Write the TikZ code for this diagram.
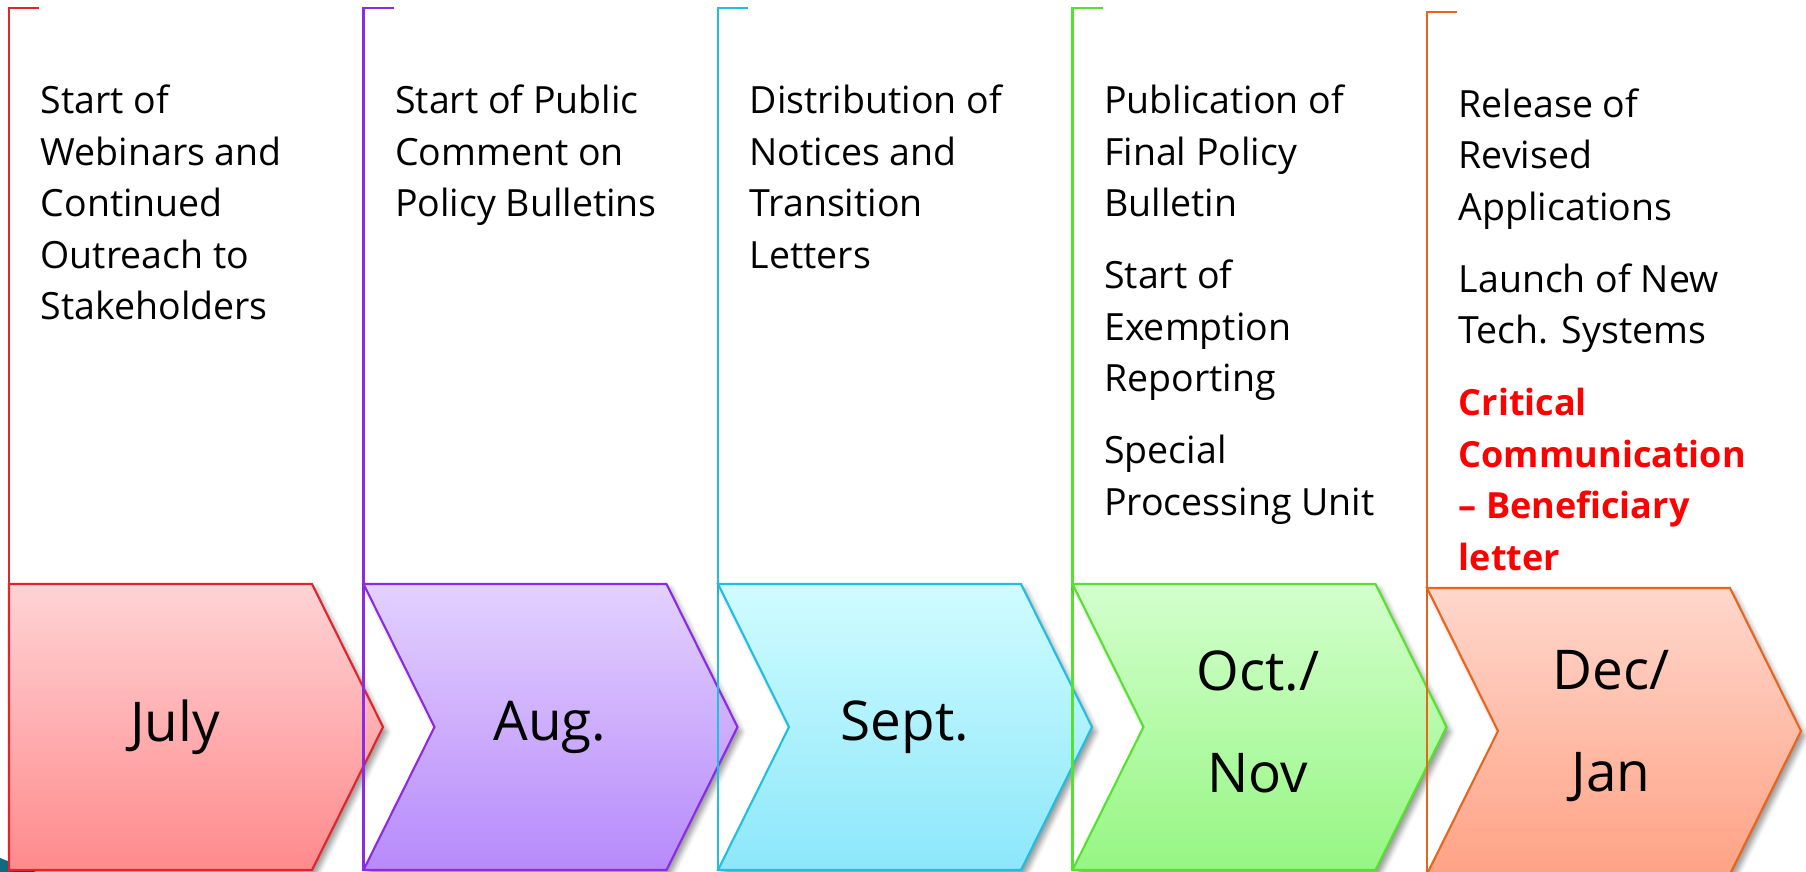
\documentclass[tikz,border=0pt]{standalone}
\usepackage{fontspec}
\setmainfont{Open Sans}
\usetikzlibrary{shadows.blur}

% Farben: Rand, oben, unten
\definecolor{linejuly}{HTML}{E3242B}
\definecolor{topjuly}{HTML}{FFD3D5}
\definecolor{botjuly}{HTML}{FF8A8C}
\definecolor{lineaug}{HTML}{8B2BE8}
\definecolor{topaug}{HTML}{E3D1FE}
\definecolor{botaug}{HTML}{B78AFB}
\definecolor{linesept}{HTML}{22BEE2}
\definecolor{topsept}{HTML}{D0FCFF}
\definecolor{botsept}{HTML}{8CE7FA}
\definecolor{lineoct}{HTML}{55E22E}
\definecolor{topoct}{HTML}{D3FFCD}
\definecolor{botoct}{HTML}{96F683}
\definecolor{linedec}{HTML}{E8651E}
\definecolor{topdec}{HTML}{FFD7CC}
\definecolor{botdec}{HTML}{FFA285}
\definecolor{cornerteal}{HTML}{0F6B7D}

\begin{document}
\begin{tikzpicture}[x=0.1mm, y=0.1mm,
        bracket/.style={line width=0.6pt},
        arrowbox/.style={line width=0.6pt,
            blur shadow={shadow xshift=0.4mm, shadow yshift=-0.5mm,
                shadow blur radius=0.5mm, shadow opacity=40}},
        info/.style={anchor=north west, inner sep=0pt, align=left,
            font=\fontsize{10.67}{14.65}\selectfont},
        month/.style={inner sep=0pt, align=center,
            font=\fontsize{15.6}{29}\selectfont}]

            % Spaltenabstand, Breite und Spitze der Pfeile
            \def\d{354.5}
            \def\w{303}
            \def\tip{71}
            \def\gap{2.05mm}

            \useasboundingbox (0,0) rectangle (1806,872);

            % Ecke unten links
            \fill[cornerteal] (0,0) -- (0,14) -- (20,6) -- (36,0) -- cycle;

            % Klammern und Pfeile
            \foreach \c/\dy [count=\i from 0] in {july/0, aug/0, sept/0, oct/0, dec/-4} {
                \pgfmathsetmacro\L{9+\i*\d}
                \pgfmathsetmacro\T{288+\dy}
                \pgfmathsetmacro\M{145+\dy}
                \pgfmathsetmacro\B{2+\dy}
                \draw[bracket, draw=line\c] (\L+30,864+\dy) -- (\L,864+\dy) -- (\L,\B);
                \ifnum\i=0
                    \path[arrowbox, draw=line\c, top color=top\c, bottom color=bot\c]
                        (\L,\T) -- (\L+\w,\T) -- (\L+\w+\tip,\M) -- (\L+\w,\B) -- (\L,\B) -- cycle;
                \else
                    \path[arrowbox, draw=line\c, top color=top\c, bottom color=bot\c]
                        (\L,\T) -- (\L+\w,\T) -- (\L+\w+\tip,\M) -- (\L+\w,\B) -- (\L,\B)
                        -- (\L+\tip,\M) -- cycle;
                \fi
            }

            % Monate
            \node[month] (july) at (175,145) {July};
            \node[month] (aug) at (550,145) {Aug.};
            \node[month] (sept) at (905,145) {Sept.};
            \node[month] (oct) at (1258,150) {Oct./\\Nov};
            \node[month] (dec) at (1611,146) {Dec/\\Jan};

            % Ereignisse
            \node[info] (events-july) at (40,787.5) {Start of\\Webinars and\\Continued\\Outreach to\\Stakeholders};
            \node[info] (events-aug) at (394.5,787.5) {Start of Public\\Comment on\\Policy Bulletins};
            \node[info] (events-sept) at (749,787.5) {Distribution of\\Notices and\\Transition\\Letters};
            \node[info] (events-oct) at (1103.5,787.5) {Publication of\\Final Policy\\Bulletin\\[\gap]Start of\\Exemption\\Reporting\\[\gap]Special\\Processing Unit};
            \node[info] (events-dec) at (1458,784) {Release of\\Revised\\Applications\\[\gap]Launch of New\\Tech. Systems};
            \node[info, text=red, font=\fontsize{10.25}{14.65}\selectfont\bfseries] (events-dec-red) at (1458,484.5) {Critical\\Communication\\– Beneficiary\\letter};
        \end{tikzpicture}
\end{document}
